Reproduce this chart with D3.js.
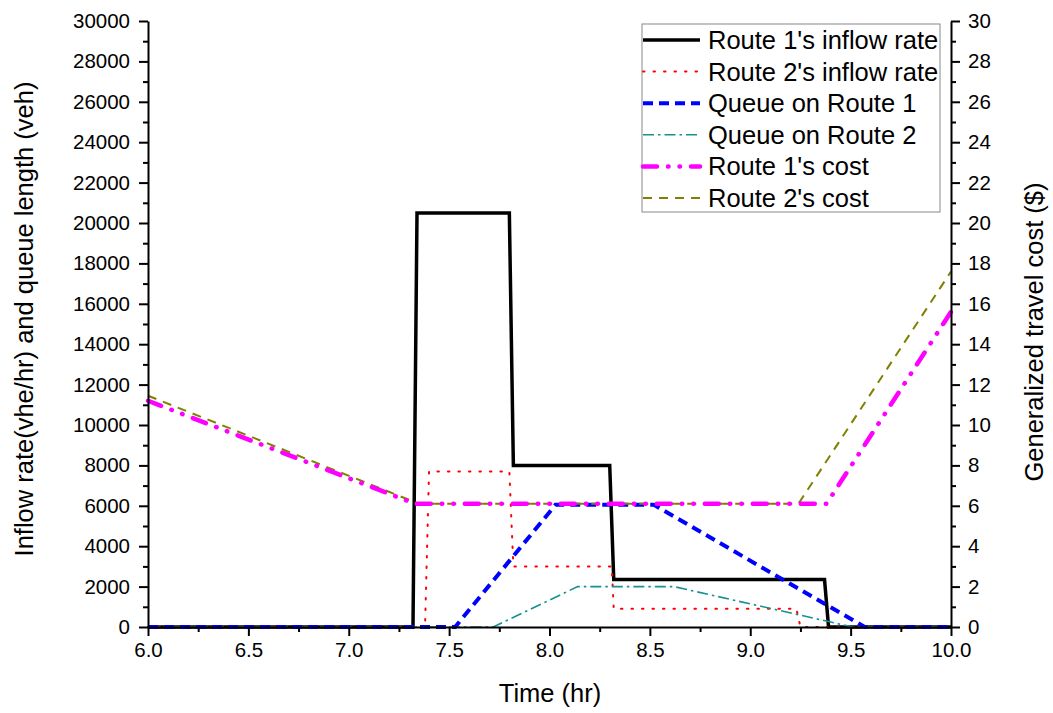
<!DOCTYPE html>
<html><head><meta charset="utf-8">
<script src="https://cdn.jsdelivr.net/npm/d3@7"></script>
<style>
body{margin:0;background:#fff}
svg{display:block;font-family:Arial,"Liberation Sans",sans-serif}
.tick text{font-size:20.5px;font-family:Arial,"Liberation Sans",sans-serif;fill:#000}
</style>
</head><body><svg id="c" width="1053" height="713"></svg>
<script>
// Data (time in hr)
const route1Inflow = [[6.0,0],[7.32,0],[7.34,20500],[7.80,20500],[7.82,8000],[8.30,8000],[8.32,2350],[9.37,2350],[9.39,0],[10.0,0]];
const route2Inflow = [[6.0,0],[7.38,0],[7.40,7700],[7.80,7700],[7.82,3000],[8.31,3000],[8.32,900],[9.23,900],[9.25,0],[10.0,0]];
const queue1 = [[6.0,0],[7.53,0],[8.03,6050],[8.52,6050],[9.57,0],[10.0,0]];
const queue2 = [[6.0,0],[7.72,0],[8.14,2000],[8.62,2000],[9.51,0],[10.0,0]];
const route1Cost = [[6.0,11.2],[7.33,6.1],[9.38,6.1],[10.0,15.6]];
const route2Cost = [[6.0,11.45],[7.35,6.1],[9.24,6.1],[10.0,17.6]];
const xTicks = [6.0,6.5,7.0,7.5,8.0,8.5,9.0,9.5,10.0];
const yLeftTicks = d3.range(0,30001,2000);
const yRightTicks = d3.range(0,31,2);
const seriesNames = ["Route 1's inflow rate","Route 2's inflow rate","Queue on Route 1","Queue on Route 2","Route 1's cost","Route 2's cost"];

const svg = d3.select("#c");
const L=148,R=951,T=21,B=627;
const x = d3.scaleLinear().domain([6,10]).range([L,R]);
const yL = d3.scaleLinear().domain([0,30000]).range([B,T]);
const yR = d3.scaleLinear().domain([0,30]).range([B,T]);

const styles = [
  {color:"#000000",w:3.5,dash:null,cap:"butt"},
  {color:"#ff0000",w:2,dash:"1.5,9",cap:"round"},
  {color:"#0000ff",w:4,dash:"10,6",cap:"butt"},
  {color:"#169090",w:1.6,dash:"11,4,2.5,4",cap:"butt"},
  {color:"#ff00ff",w:4.5,dash:"14,11,0.5,11,0.5,11",cap:"round"},
  {color:"#808000",w:2,dash:"9,7",cap:"butt"}
];
const data = [route1Inflow,route2Inflow,queue1,queue2,route1Cost,route2Cost];
const scales = [yL,yL,yL,yL,yR,yR];
const order = [0,1,3,2,5,4];

order.forEach(i=>{
  const s=styles[i];
  const line=d3.line().x(d=>x(d[0])).y(d=>scales[i](d[1]));
  svg.append("path").attr("d",line(data[i])).attr("fill","none")
    .attr("stroke",s.color).attr("stroke-width",s.w)
    .attr("stroke-dasharray",s.dash).attr("stroke-linecap",s.cap).attr("stroke-linejoin","miter");
});

function styleAxis(g){
  g.attr("font-size",null).attr("font-family",null);
  g.selectAll("path.domain").attr("stroke","#000").attr("stroke-width",2);
  g.selectAll("line").attr("stroke","#000").attr("stroke-width",2);
}
// minor ticks
const gx = svg.append("g").attr("transform",`translate(0,${B})`);
gx.call(d3.axisBottom(x).tickValues(d3.range(6.25,10,0.5)).tickSize(5).tickFormat(""));
gx.call(g=>g.select(".domain").remove());
const gx2 = svg.append("g").attr("transform",`translate(0,${B})`)
  .call(d3.axisBottom(x).tickValues(xTicks).tickSize(9).tickSizeOuter(0).tickFormat(d3.format(".1f")).tickPadding(6));
styleAxis(gx); styleAxis(gx2);

const gl = svg.append("g").attr("transform",`translate(${L},0)`);
gl.call(d3.axisLeft(yL).tickValues(d3.range(1000,30000,2000)).tickSize(5).tickFormat(""));
gl.call(g=>g.select(".domain").remove());
const gl2 = svg.append("g").attr("transform",`translate(${L},0)`)
  .call(d3.axisLeft(yL).tickValues(yLeftTicks).tickSize(9).tickSizeOuter(0).tickFormat(d3.format("d")).tickPadding(9));
styleAxis(gl); styleAxis(gl2);

const gr = svg.append("g").attr("transform",`translate(${R},0)`);
gr.call(d3.axisRight(yR).tickValues(d3.range(1,30,2)).tickSize(5).tickFormat(""));
gr.call(g=>g.select(".domain").remove());
const gr2 = svg.append("g").attr("transform",`translate(${R},0)`)
  .call(d3.axisRight(yR).tickValues(yRightTicks).tickSize(9).tickSizeOuter(0).tickFormat(d3.format("d")).tickPadding(8));
styleAxis(gr); styleAxis(gr2);

// titles
svg.append("text").attr("x",550).attr("y",702).attr("text-anchor","middle")
  .attr("font-size",25.5).text("Time (hr)");
svg.append("text").attr("transform",`translate(33,319) rotate(-90)`).attr("text-anchor","middle")
  .attr("font-size",25.5).text("Inflow rate(vhe/hr) and queue length (veh)");
svg.append("text").attr("transform",`translate(1043,332) rotate(-90)`).attr("text-anchor","middle")
  .attr("font-size",25.5).text("Generalized travel cost ($)");

// legend
const lg = svg.append("g");
lg.append("rect").attr("x",642).attr("y",24).attr("width",298).attr("height",188)
  .attr("fill","#fff").attr("stroke","#888").attr("stroke-width",1);
seriesNames.forEach((n,i)=>{
  const yy = 40 + i*31.6;
  const s=styles[i];
  lg.append("line").attr("x1",643).attr("x2",700).attr("y1",yy).attr("y2",yy)
    .attr("stroke",s.color).attr("stroke-width",s.w).attr("stroke-dasharray",s.dash).attr("stroke-linecap",s.cap);
  lg.append("text").attr("x",708).attr("y",yy+9).attr("font-size",25.5).text(n);
});
</script></body></html>
